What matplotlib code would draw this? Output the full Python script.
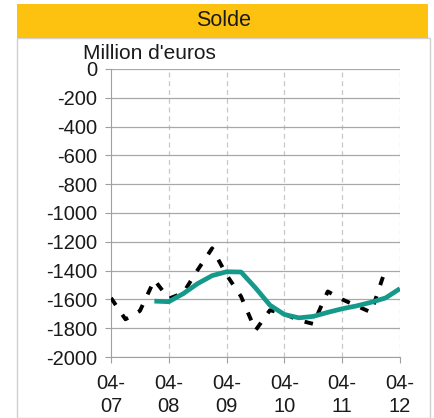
import matplotlib.pyplot as plt
from matplotlib.patches import Rectangle

plt.rcParams['font.family'] = ['Liberation Sans', 'DejaVu Sans']

# quarterly positions, 0 = April 2007
quarters = [i * 0.25 for i in range(21)]
year_ticks = [0, 1, 2, 3, 4, 5]
year_labels = ["04-\n07", "04-\n08", "04-\n09", "04-\n10", "04-\n11", "04-\n12"]

# monthly balance (dotted)
solde = [-1590, -1738, -1680, -1465, -1595, -1555, -1395, -1245, -1430, -1580,
         -1815, -1675, -1700, -1745, -1770, -1545, -1600, -1645, -1690, -1390]

# moving average (green), starts at the 4th quarter
solde_ma = [-1612, -1616, -1560, -1490, -1435, -1408, -1410, -1520, -1640,
            -1705, -1728, -1718, -1690, -1665, -1645, -1620, -1590, -1525]

yticks = list(range(0, -2001, -200))

fig = plt.figure(figsize=(4.35, 4.18), dpi=100)

# panel frame and yellow header
fig.patches.append(Rectangle((17 / 435, 0), 413 / 435, 1 - 38 / 418,
                             transform=fig.transFigure, facecolor='none',
                             edgecolor='#d0d0d0', linewidth=1, zorder=0))
fig.patches.append(Rectangle((17 / 435, 1 - 38 / 418), 411 / 435, 34 / 418,
                             transform=fig.transFigure, facecolor='#fdc20f',
                             edgecolor='none', zorder=1))
fig.text(224 / 435, 1 - 21 / 418, "Solde", ha='center', va='center',
         fontsize=15.5, color='#1a1a1a')
fig.text(83 / 435, 1 - 59 / 418, "Million d'euros", ha='left', va='baseline',
         fontsize=15, color='#1a1a1a')

ax = fig.add_axes([111 / 435, 1 - 357 / 418, 289 / 435, 288 / 418])
ax.set_zorder(3)
ax.set_facecolor('none')

ax.plot(quarters[:len(solde)], solde, color='black', linewidth=2.8,
        linestyle=(0, (2.2, 3)), zorder=3)
ax.plot(quarters[3:3 + len(solde_ma)], solde_ma, color='#15998a', linewidth=3.4,
        solid_capstyle='butt', solid_joinstyle='round', zorder=4)

ax.set_xlim(0, 5)
ax.set_ylim(-2000, 0)
ax.set_yticks(yticks)
ax.set_yticklabels([str(v) for v in yticks], fontsize=14.5, color='#1a1a1a')
ax.set_xticks(year_ticks)
ax.set_xticklabels(year_labels, fontsize=14.5, linespacing=1.3, color='#1a1a1a')

ax.grid(axis='y', color='#a8a8a8', linewidth=0.9)
for x in year_ticks[1:]:
    ax.axvline(x, color='#c8c8c8', linewidth=0.9, linestyle=(0, (4, 3)), zorder=1)

for side in ['top', 'right']:
    ax.spines[side].set_visible(False)
ax.spines['left'].set_color('#a0a0a0')
ax.spines['bottom'].set_color('#a0a0a0')
ax.tick_params(axis='y', length=4, width=0.8, color='#a0a0a0', pad=6)
ax.tick_params(axis='x', length=4, width=0.8, color='#a0a0a0', pad=8)

fig.savefig('out.png', dpi=100)
